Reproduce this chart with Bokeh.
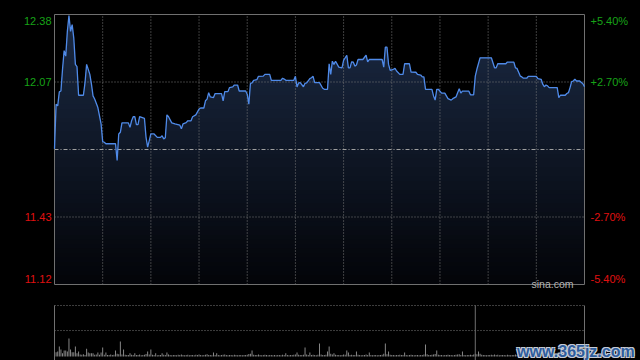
import numpy as np
from bokeh.plotting import figure
from bokeh.models import Range1d, Label
from bokeh.layouts import column
from bokeh.embed import file_html
from bokeh.resources import INLINE

# ---------------- data ----------------
prev_close = 11.75
pct_levels = [5.4, 2.7, -2.7, -5.4]
price_labels = ["12.38", "12.07", "11.43", "11.12"]
pct_labels = ["+5.40%", "+2.70%", "-2.70%", "-5.40%"]
session_minutes = 330
grid_minutes = [30, 60, 90, 120, 150, 180, 210, 240, 270, 300]
cursor_minute = 262

minutes = [0, 1, 2, 3, 4, 5, 6, 7, 8, 9, 10, 11, 12, 13, 14, 15, 18, 19, 20, 22,
           23, 24, 25, 27, 29, 30, 31, 32, 38, 39, 40, 41, 42, 46, 47, 48, 49, 50, 51, 52,
           53, 56, 57, 58, 59, 60, 62, 64, 66, 67, 68, 69, 70, 71, 73, 75, 78, 79, 80, 82,
           83, 85, 86, 88, 90, 91, 93, 94, 95, 96, 97, 99, 100, 104, 105, 106, 108, 109, 111, 112,
           114, 115, 119, 120, 121, 122, 123, 124, 126, 127, 130, 131, 134, 135, 141, 142, 143, 144, 149, 150,
           151, 152, 153, 155, 156, 157, 159, 160, 161, 162, 165, 167, 168, 170, 171, 172, 173, 174, 175, 177,
           179, 180, 182, 183, 184, 185, 186, 187, 188, 189, 192, 194, 195, 196, 204, 205, 206, 207, 208, 209,
           211, 212, 213, 215, 217, 218, 221, 222, 225, 226, 228, 229, 230, 231, 235, 236, 237, 238, 239, 241,
           243, 245, 247, 248, 250, 251, 252, 253, 254, 258, 259, 261, 262, 263, 265, 272, 274, 275, 276, 281,
           282, 286, 287, 288, 290, 291, 292, 294, 295, 300, 301, 303, 304, 305, 306, 307, 308, 313, 314, 315,
           318, 319, 320, 321, 322, 323, 324, 325, 327, 329, 330]
prices = [11.753, 11.963, 11.955, 12.021, 12.025, 12.127, 12.215, 12.189, 12.305, 12.380,
          12.305, 12.337, 12.274, 12.150, 12.140, 12.005, 12.005, 12.064, 12.150, 12.103,
          12.057, 12.002, 11.987, 11.947, 11.870, 11.787, 11.784, 11.777, 11.777, 11.699,
          11.823, 11.831, 11.875, 11.875, 11.854, 11.885, 11.904, 11.905, 11.867, 11.867,
          11.904, 11.896, 11.807, 11.761, 11.792, 11.823, 11.823, 11.807, 11.807, 11.815,
          11.800, 11.805, 11.913, 11.904, 11.875, 11.870, 11.865, 11.847, 11.870, 11.876,
          11.885, 11.885, 11.904, 11.913, 11.940, 11.945, 11.945, 11.979, 11.987, 12.017,
          11.997, 11.994, 12.013, 12.013, 11.979, 12.022, 12.022, 12.041, 12.044, 12.053,
          12.053, 12.025, 12.025, 12.010, 11.963, 12.061, 12.063, 12.075, 12.078, 12.094,
          12.095, 12.103, 12.103, 12.075, 12.075, 12.085, 12.081, 12.075, 12.075, 12.094,
          12.044, 12.063, 12.064, 12.045, 12.061, 12.063, 12.083, 12.087, 12.094, 12.064,
          12.064, 12.038, 12.033, 12.033, 12.153, 12.103, 12.165, 12.150, 12.165, 12.137,
          12.134, 12.169, 12.193, 12.134, 12.134, 12.162, 12.161, 12.142, 12.147, 12.173,
          12.173, 12.193, 12.162, 12.173, 12.173, 12.137, 12.231, 12.231, 12.150, 12.122,
          12.127, 12.131, 12.119, 12.103, 12.103, 12.153, 12.153, 12.114, 12.113, 12.103,
          12.100, 12.091, 12.091, 12.033, 12.033, 12.002, 11.982, 12.033, 12.033, 12.015,
          12.015, 11.989, 11.982, 11.989, 11.997, 12.017, 12.036, 12.015, 12.024, 12.024,
          12.007, 12.007, 12.095, 12.127, 12.181, 12.181, 12.134, 12.134, 12.153, 12.153,
          12.161, 12.161, 12.134, 12.131, 12.095, 12.091, 12.085, 12.085, 12.094, 12.094,
          12.083, 12.080, 12.057, 12.045, 12.053, 12.049, 12.041, 12.041, 11.994, 12.005,
          12.005, 12.013, 12.017, 12.041, 12.069, 12.072, 12.080, 12.072, 12.072, 12.059,
          12.045]

# volume per minute (0..330)
volume = [
    60, 93, 108, 217, 152, 72, 130, 130, 108, 390, 152, 93, 93, 217, 72, 108, 45, 40, 50, 35,
    167, 87, 72, 72, 72, 40, 45, 87, 40, 87,
    195, 40, 87, 35, 30, 45, 30, 40, 130, 60, 50, 326, 45, 152, 40, 35, 30, 72, 40, 30,
    72, 35, 30, 45, 25, 30, 40, 55, 108, 45,
    152, 40, 30, 72, 25, 35, 30, 72, 40, 30, 87, 45, 30, 25, 35, 30, 25, 40, 30, 45,
    35, 25, 30, 40, 25, 30, 35, 25, 40, 30,
    45, 30, 25, 35, 40, 50, 35, 30, 25, 87, 30, 72, 30, 25, 35, 40, 45, 30, 25, 35,
    30, 25, 40, 30, 25, 35, 30, 25, 30, 35,
    40, 55, 60, 130, 40, 30, 35, 45, 30, 25, 35, 40, 30, 25, 30, 35, 25, 30, 25, 35,
    30, 25, 40, 30, 72, 30, 25, 35, 30, 40,
    45, 87, 40, 30, 35, 40, 195, 45, 30, 87, 35, 40, 30, 25, 40, 282, 45, 35, 30, 40,
    108, 217, 60, 45, 72, 40, 35, 30, 25, 35,
    45, 40, 130, 87, 35, 40, 30, 35, 108, 40, 30, 25, 35, 30, 45, 35, 87, 30, 25, 35,
    30, 25, 30, 35, 40, 60, 282, 50, 108, 40,
    35, 30, 25, 35, 30, 40, 30, 35, 87, 30, 25, 35, 40, 30, 25, 35, 30, 25, 30, 35,
    45, 260, 50, 35, 30, 40, 45, 55, 130, 40,
    35, 30, 25, 35, 30, 40, 35, 30, 25, 35, 40, 45, 50, 35, 108, 30, 25, 35, 30, 40,
    35, 45, 60, 50, 108, 60, 40, 35, 30, 25,
    35, 30, 40, 35, 45, 30, 40, 25, 30, 35, 30, 25, 40, 30, 25, 35, 30, 45, 35, 30,
    50, 35, 30, 25, 35, 40, 30, 25, 30, 35,
    30, 40, 35, 30, 45, 40, 30, 35, 30, 25, 30, 35, 25, 40, 50, 35, 30, 25, 35, 40,
    45, 50, 55, 40, 35, 30, 35, 30, 40, 45, 60]
vol_minutes = list(range(len(volume)))
vol_top = 1110
vol_grid = [565]

# ---------------- layout / styling ----------------
FONT = "Liberation Sans"
UP = "#17a317"
DOWN = "#e01010"
GRID = "#7a7a7a"
FRAME = "#707070"
LINE = "#4f8ae8"

W = 640
PLOT_L, PLOT_W = 54, 530          # plot box in pixels
MAIN_H, BOX_T, BOX_H = 298, 14, 270
VOL_H, VOL_T, VOL_BASE = 62, 7, 58  # volume figure: box top, baseline (px from fig top)

y_lo = prev_close * (1 - pct_levels[0] / 100)
y_hi = prev_close * (1 + pct_levels[0] / 100)
ppx = (y_hi - y_lo) / BOX_H
mpx = session_minutes / PLOT_W
x_start = -PLOT_L * mpx
x_end = session_minutes + (W - PLOT_L - PLOT_W) * mpx
xr = Range1d(x_start, x_end)

p = figure(width=W, height=MAIN_H, x_range=xr,
           y_range=Range1d(y_lo - (MAIN_H - BOX_T - BOX_H) * ppx, y_hi + BOX_T * ppx),
           x_axis_type=None, y_axis_type=None, toolbar_location=None, output_backend="svg",
           min_border=0, background_fill_color="black", border_fill_color="black",
           outline_line_color=None)

# vertical gradient fill under the price line
xs = np.array(minutes, dtype=float)
ys = np.array(prices, dtype=float)
top_rgb = np.array([27, 42, 68])
bot_rgb = np.array([3, 4, 8])
n_bands = 60
edges = np.linspace(y_lo, y_hi, n_bands + 1)
for k in range(n_bands, 0, -1):
    hi = edges[k]
    t = (0.5 * (edges[k - 1] + edges[k]) - y_lo) / (y_hi - y_lo)
    c = bot_rgb + (top_rgb - bot_rgb) * t
    col = "#%02x%02x%02x" % tuple(int(round(v)) for v in c)
    p.varea(x=xs, y1=np.full_like(ys, y_lo), y2=np.minimum(ys, hi), fill_color=col, fill_alpha=1.0)

# grid lines
gx = grid_minutes
p.segment(x0=gx, x1=gx, y0=[y_lo] * len(gx), y1=[y_hi] * len(gx),
          line_color=GRID, line_width=1, line_dash="1 2")
hy = [prev_close * (1 + v / 100) for v in pct_levels[1:3]]
p.segment(x0=[0] * len(hy), x1=[session_minutes] * len(hy), y0=hy, y1=hy,
          line_color=GRID, line_width=1, line_dash="1 2")
p.segment(x0=[0], x1=[session_minutes], y0=[prev_close], y1=[prev_close],
          line_color="#a0a0a0", line_width=1, line_dash="4 2 1 2")

# plot box
p.quad(left=[0], right=[session_minutes], bottom=[y_lo], top=[y_hi],
       fill_alpha=0, line_color=FRAME, line_width=1)

# price line
p.line(minutes, prices, line_color=LINE, line_width=1.3)

# axis labels
n = len(pct_levels)
for i, (pc, ptxt, ctxt) in enumerate(zip(pct_levels, price_labels, pct_labels)):
    yv = prev_close * (1 + pc / 100)
    colr = UP if pc > 0 else DOWN
    yoff = -6 if i == 0 else (6 if i == n - 1 else 0)
    p.add_layout(Label(x=0, y=yv, x_offset=-3, y_offset=yoff, text=ptxt, text_align="right",
                       text_baseline="middle", text_font=FONT, text_font_size="11px", text_color=colr))
    p.add_layout(Label(x=session_minutes, y=yv, x_offset=6, y_offset=yoff, text=ctxt, text_align="left",
                       text_baseline="middle", text_font=FONT, text_font_size="11px", text_color=colr))

p.add_layout(Label(x=session_minutes, y=y_lo, x_offset=-11, y_offset=1, text="sina.com",
                   text_align="right", text_baseline="alphabetic", text_font=FONT,
                   text_font_size="10.5px", text_color="#b4b4b4"))

# ---------------- volume panel ----------------
vpx = vol_top / (VOL_BASE - VOL_T)
v = figure(width=W, height=VOL_H, x_range=xr,
           y_range=Range1d(-(VOL_H - VOL_BASE) * vpx, vol_top + VOL_T * vpx),
           x_axis_type=None, y_axis_type=None, toolbar_location=None, output_backend="svg",
           min_border=0, background_fill_color="black", border_fill_color="black",
           outline_line_color=None)

v.vbar(x=vol_minutes, top=volume, bottom=0, width=0.6, fill_color="#8c8c8c", line_color=None)

hl = [vol_top] + vol_grid
v.segment(x0=[0] * len(hl), x1=[session_minutes] * len(hl), y0=hl, y1=hl,
          line_color=GRID, line_width=1, line_dash="1 2")
vx = [0, session_minutes, cursor_minute]
v.segment(x0=vx, x1=vx, y0=[vol_top] * 3, y1=[-(VOL_H - VOL_BASE) * vpx] * 3,
          line_color=FRAME, line_width=1)

wm = "www.365jz.com"
for dx, dy in [(-1, -1), (1, -1), (-1, 1), (1, 1)]:
    v.add_layout(Label(x=288, y=0, x_offset=dx, y_offset=5 + dy, text=wm, text_align="left",
                       text_baseline="alphabetic", text_font=FONT, text_font_style="bold",
                       text_font_size="16px", text_color="#c6ccd6"))
v.add_layout(Label(x=288, y=0, x_offset=0, y_offset=5, text=wm, text_align="left",
                   text_baseline="alphabetic", text_font=FONT, text_font_style="bold",
                   text_font_size="16px", text_color="#2f5d9c"))

layout = column(p, v, spacing=0, styles={"background-color": "black"})

html = file_html(layout, INLINE)
html = html.replace("</head>", "<style>html,body{background-color:#000000;}</style></head>", 1)
open("out.html", "w").write(html)
